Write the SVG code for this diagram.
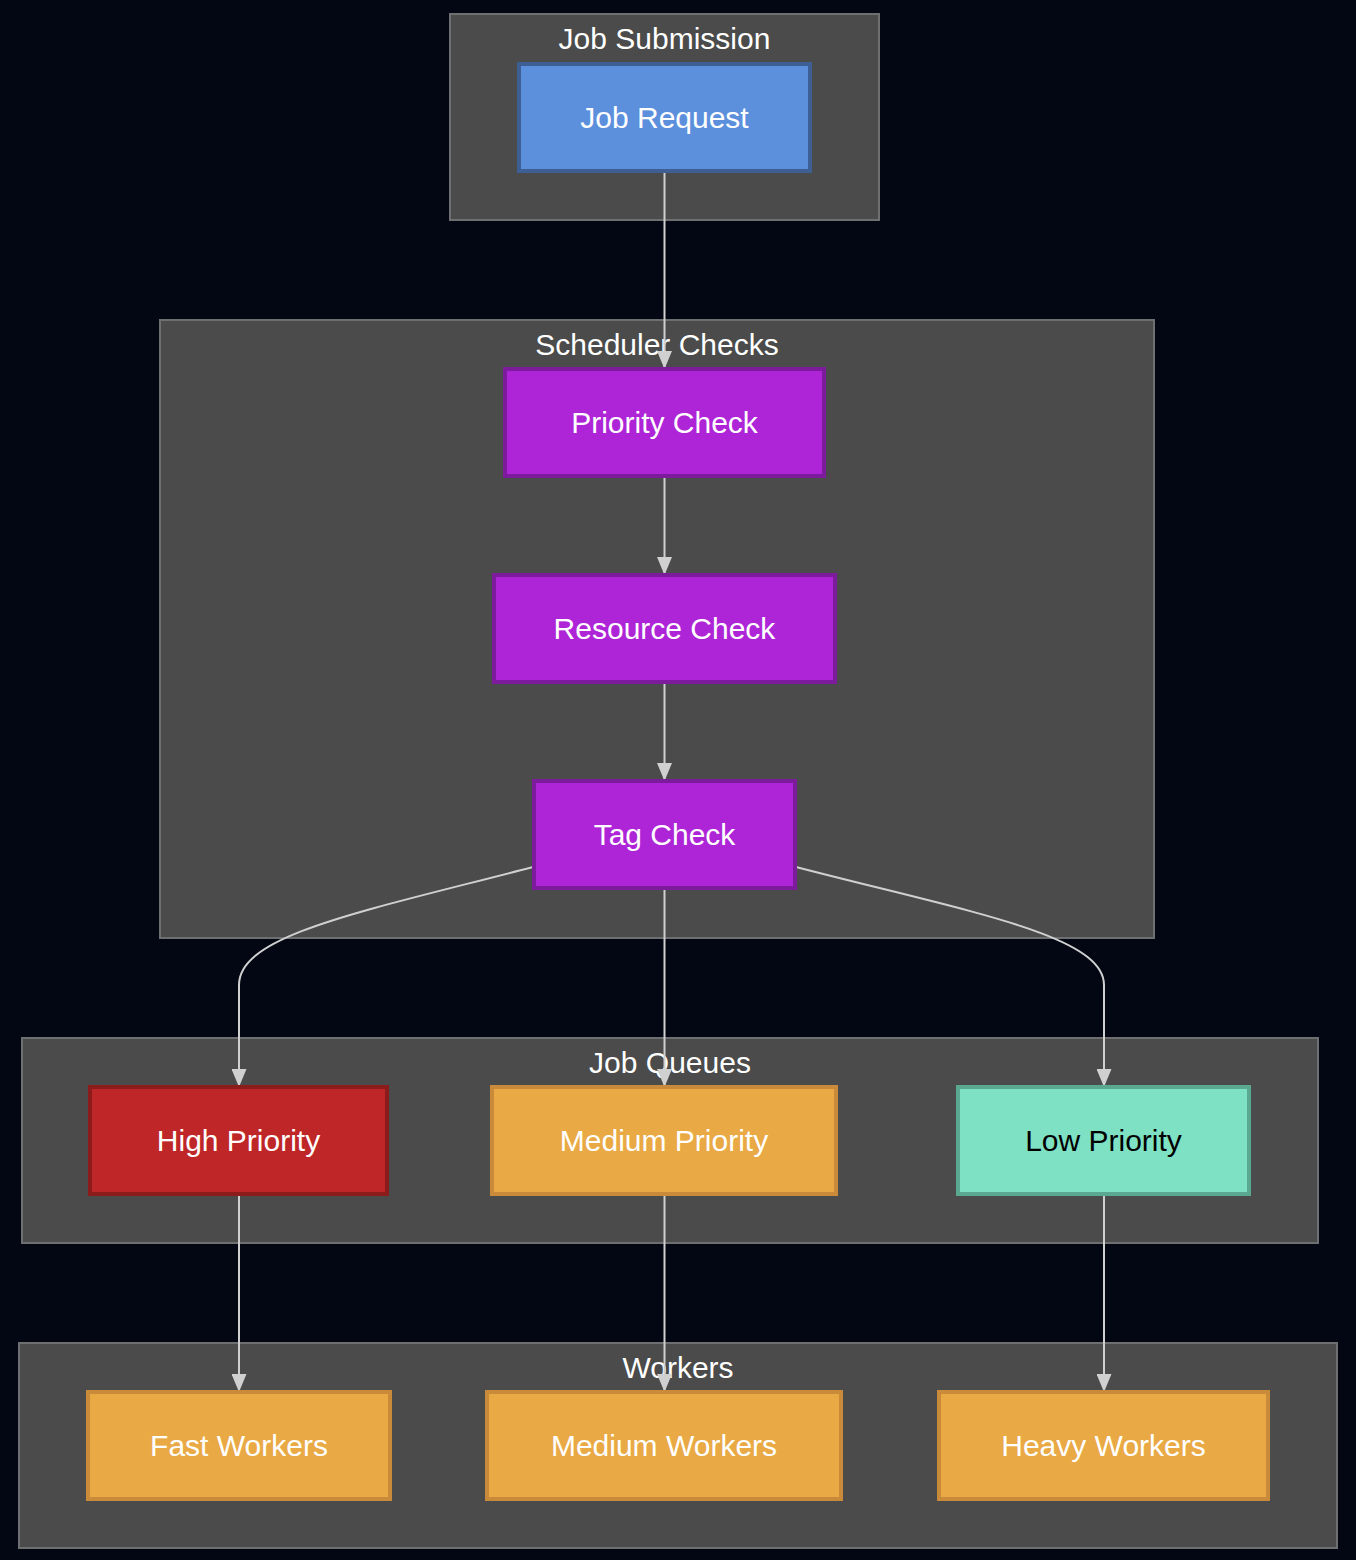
<svg xmlns="http://www.w3.org/2000/svg" width="1356" height="1560" viewBox="0 0 1356 1560">
<style>
.bg{fill:#020713}
.cluster rect{fill:#4a4b4a;stroke:#6e6f70;stroke-width:2}
.ctitle{font-family:"Liberation Sans",Arial,sans-serif;font-size:30px;fill:#ffffff;text-anchor:middle;dominant-baseline:central}
.node rect{stroke-width:4}
.node text{font-family:"Liberation Sans",Arial,sans-serif;font-size:30px;fill:#ffffff;text-anchor:middle;dominant-baseline:central}
.blue rect{fill:#5c8fdc;stroke:#3d5f94}
.purple rect{fill:#ae25d7;stroke:#7c1c9c}
.red rect{fill:#bf2627;stroke:#8c1b1c}
.orange rect{fill:#e9a944;stroke:#c98a3a}
.green rect{fill:#7ee1c4;stroke:#5aa88f}
.green text{fill:#000000}
.edges path{fill:none;stroke:#d0d0d0;stroke-width:2}
</style>
<defs>
<marker id="arrow" viewBox="0 0 18 15" refX="18" refY="7.5" markerWidth="18" markerHeight="15" markerUnits="userSpaceOnUse" orient="auto">
<path d="M0,0 L18,7.5 L0,15 z" fill="#d0d0d0"/>
</marker>
</defs>
<rect class="bg" x="0" y="0" width="1356" height="1560"/>
<g id="clusters">
<g id="cluster-submission" class="cluster"><rect x="450" y="14" width="429" height="206"/><text class="ctitle" x="664.5" y="38">Job Submission</text></g>
<g id="cluster-scheduler" class="cluster"><rect x="160" y="320" width="994" height="618"/><text class="ctitle" x="657" y="344">Scheduler Checks</text></g>
<g id="cluster-queues" class="cluster"><rect x="22" y="1038" width="1296" height="205"/><text class="ctitle" x="670" y="1062">Job Queues</text></g>
<g id="cluster-workers" class="cluster"><rect x="19" y="1343" width="1318" height="205"/><text class="ctitle" x="678" y="1367">Workers</text></g>
</g>
<g id="edges" class="edges">
<path d="M664.5,172 L664.5,369" marker-end="url(#arrow)"/>
<path d="M664.5,477 L664.5,575" marker-end="url(#arrow)"/>
<path d="M664.5,683 L664.5,781" marker-end="url(#arrow)"/>
<path d="M533,867 C360,912 239,935 239,985 L239,1087" marker-end="url(#arrow)"/>
<path d="M664.5,889 L664.5,1087" marker-end="url(#arrow)"/>
<path d="M796,867 C969,912 1104,935 1104,985 L1104,1087" marker-end="url(#arrow)"/>
<path d="M239,1195 L239,1392" marker-end="url(#arrow)"/>
<path d="M664.5,1195 L664.5,1392" marker-end="url(#arrow)"/>
<path d="M1104,1195 L1104,1392" marker-end="url(#arrow)"/>
</g>
<g id="node-job-request" class="node blue"><rect x="519" y="64" width="291" height="107"/><text x="664.5" y="117.5">Job Request</text></g>
<g id="node-priority-check" class="node purple"><rect x="505" y="369" width="319" height="107"/><text x="664.5" y="422.5">Priority Check</text></g>
<g id="node-resource-check" class="node purple"><rect x="494" y="575" width="341" height="107"/><text x="664.5" y="628.5">Resource Check</text></g>
<g id="node-tag-check" class="node purple"><rect x="534" y="781" width="261" height="107"/><text x="664.5" y="834.5">Tag Check</text></g>
<g id="node-high" class="node red"><rect x="90" y="1087" width="297" height="107"/><text x="238.5" y="1140.5">High Priority</text></g>
<g id="node-medium" class="node orange"><rect x="492" y="1087" width="344" height="107"/><text x="664" y="1140.5">Medium Priority</text></g>
<g id="node-low" class="node green"><rect x="958" y="1087" width="291" height="107"/><text x="1103.5" y="1140.5">Low Priority</text></g>
<g id="node-fast-workers" class="node orange"><rect x="88" y="1392" width="302" height="107"/><text x="239" y="1445.5">Fast Workers</text></g>
<g id="node-medium-workers" class="node orange"><rect x="487" y="1392" width="354" height="107"/><text x="664" y="1445.5">Medium Workers</text></g>
<g id="node-heavy-workers" class="node orange"><rect x="939" y="1392" width="329" height="107"/><text x="1103.5" y="1445.5">Heavy Workers</text></g>
</svg>
